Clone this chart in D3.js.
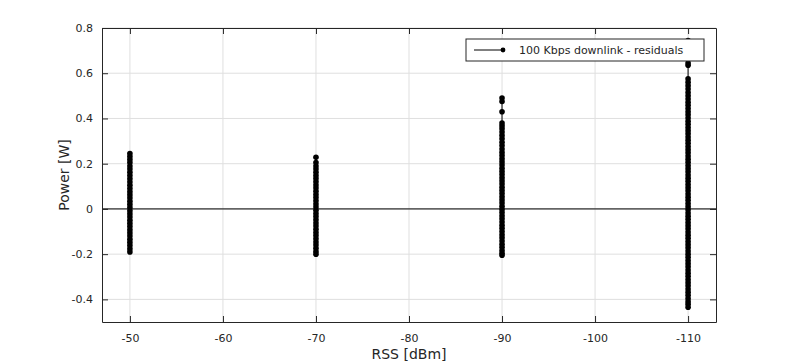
<!DOCTYPE html>
<html>
<head>
<meta charset="utf-8">
<script src="https://cdn.jsdelivr.net/npm/d3@7"></script>
<style>
  body { margin: 0; background: #fff; }
  text { font-family: "DejaVu Sans", sans-serif; fill: #262626; }
</style>
</head>
<body>
<script>
// RSS levels (dBm) and the residuals measured at each
const rssLevels = [-50, -70, -90, -110];
const res50 = [0.245, 0.232, 0.218, 0.205, 0.19, 0.176, 0.162, 0.148, 0.133, 0.119, 0.105, 0.09, 0.076, 0.062, 0.048, 0.034, 0.02, 0.006, -0.008, -0.022, -0.036, -0.05, -0.064, -0.078, -0.092, -0.106, -0.12, -0.134, -0.148, -0.162, -0.176, -0.19];
const res70 = [0.228, 0.205, 0.19, 0.176, 0.162, 0.148, 0.134, 0.12, 0.106, 0.092, 0.078, 0.064, 0.05, 0.036, 0.022, 0.008, -0.006, -0.02, -0.034, -0.048, -0.062, -0.076, -0.09, -0.104, -0.118, -0.132, -0.146, -0.16, -0.174, -0.188, -0.2];
const res90 = [0.49, 0.475, 0.43, 0.38, 0.368, 0.355, 0.34, 0.325, 0.31, 0.295, 0.28, 0.265, 0.25, 0.236, 0.222, 0.208, 0.194, 0.18, 0.166, 0.152, 0.138, 0.124, 0.11, 0.096, 0.082, 0.068, 0.054, 0.04, 0.026, 0.012, -0.002, -0.016, -0.03, -0.044, -0.058, -0.072, -0.086, -0.1, -0.114, -0.128, -0.142, -0.156, -0.17, -0.184, -0.196, -0.205];
const res110 = [0.745, 0.725, 0.705, 0.675, 0.645, 0.635, 0.575, 0.56, 0.545, 0.53, 0.515, 0.5, 0.486, 0.472, 0.458, 0.444, 0.43, 0.416, 0.402, 0.388, 0.374, 0.36, 0.346, 0.332, 0.318, 0.304, 0.29, 0.276, 0.262, 0.248, 0.234, 0.22, 0.206, 0.192, 0.178, 0.164, 0.15, 0.136, 0.122, 0.108, 0.094, 0.08, 0.066, 0.052, 0.038, 0.024, 0.01, -0.004, -0.018, -0.032, -0.046, -0.06, -0.074, -0.088, -0.102, -0.116, -0.13, -0.144, -0.158, -0.172, -0.186, -0.2, -0.214, -0.228, -0.242, -0.256, -0.27, -0.284, -0.298, -0.312, -0.326, -0.34, -0.354, -0.368, -0.382, -0.396, -0.41, -0.422, -0.435];
const residuals = [res50, res70, res90, res110];

const xTicks = [-50, -60, -70, -80, -90, -100, -110];
const yTicks = [-0.4, -0.2, 0, 0.2, 0.4, 0.6, 0.8];

const W = 791, H = 364;
const margin = {top: 28, right: 75, bottom: 42, left: 102};
const width = W - margin.left - margin.right;
const height = H - margin.top - margin.bottom;

const x = d3.scaleLinear().domain([-47, -113]).range([0, width]);
const y = d3.scaleLinear().domain([-0.5, 0.8]).range([height, 0]);

const svg = d3.select("body").append("svg")
  .attr("width", W).attr("height", H);
const g = svg.append("g")
  .attr("transform", "translate(" + margin.left + "," + margin.top + ")");

// grid
g.append("g").selectAll("line").data(xTicks).join("line")
  .attr("x1", d => x(d)).attr("x2", d => x(d))
  .attr("y1", 0).attr("y2", height)
  .attr("stroke", "#dfdfdf");
g.append("g").selectAll("line").data(yTicks).join("line")
  .attr("x1", 0).attr("x2", width)
  .attr("y1", d => y(d)).attr("y2", d => y(d))
  .attr("stroke", "#dfdfdf");

// zero line
g.append("line")
  .attr("x1", 0).attr("x2", width)
  .attr("y1", y(0)).attr("y2", y(0))
  .attr("stroke", "#000").attr("stroke-width", 1);

// residual points
const line = d3.line().x(d => x(d[0])).y(d => y(d[1]));
rssLevels.forEach((rss, i) => {
  const pts = residuals[i].map(v => [rss, v]);
  g.append("path").datum(pts)
    .attr("d", line).attr("fill", "none")
    .attr("stroke", "#000").attr("stroke-width", 1);
  g.append("g").selectAll("circle").data(pts).join("circle")
    .attr("cx", d => x(d[0])).attr("cy", d => y(d[1]))
    .attr("r", 2.8).attr("fill", "#000");
});

// axes (ticks inward, box on)
const tickLen = 6;
const fmt = d => String(d);
const axisStyle = sel => {
  sel.select(".domain").attr("stroke", "#262626");
  sel.selectAll(".tick line").attr("stroke", "#262626");
  sel.selectAll(".tick text").style("font-size", "11px").attr("fill", "#262626");
};
g.append("g").attr("transform", "translate(0," + height + ")")
  .call(d3.axisBottom(x).tickValues(xTicks).tickFormat(fmt).tickSizeInner(-tickLen).tickSizeOuter(0).tickPadding(12))
  .call(axisStyle);
g.append("g")
  .call(d3.axisLeft(y).tickValues(yTicks).tickFormat(fmt).tickSizeInner(-tickLen).tickSizeOuter(0).tickPadding(9))
  .call(axisStyle);
g.append("g")
  .call(d3.axisTop(x).tickValues(xTicks).tickSizeInner(-tickLen).tickSizeOuter(0).tickFormat(""))
  .call(axisStyle);
g.append("g").attr("transform", "translate(" + width + ",0)")
  .call(d3.axisRight(y).tickValues(yTicks).tickSizeInner(-tickLen).tickSizeOuter(0).tickFormat(""))
  .call(axisStyle);

// axis labels
svg.append("text")
  .attr("x", margin.left + width / 2).attr("y", 359)
  .attr("text-anchor", "middle").style("font-size", "14px")
  .text("RSS [dBm]");
svg.append("text")
  .attr("transform", "translate(69," + (margin.top + height / 2) + ") rotate(-90)")
  .attr("text-anchor", "middle").style("font-size", "14px")
  .text("Power [W]");

// legend
const leg = svg.append("g").attr("transform", "translate(466,39)");
leg.append("rect").attr("width", 238).attr("height", 22)
  .attr("fill", "#fff").attr("stroke", "#262626").attr("stroke-width", 1);
leg.append("line").attr("x1", 8).attr("x2", 38).attr("y1", 11).attr("y2", 11)
  .attr("stroke", "#000");
leg.append("circle").attr("cx", 37).attr("cy", 11).attr("r", 2.4).attr("fill", "#000");
leg.append("text").attr("x", 53).attr("y", 15).style("font-size", "11px")
  .text("100 Kbps downlink - residuals");
</script>
</body>
</html>
